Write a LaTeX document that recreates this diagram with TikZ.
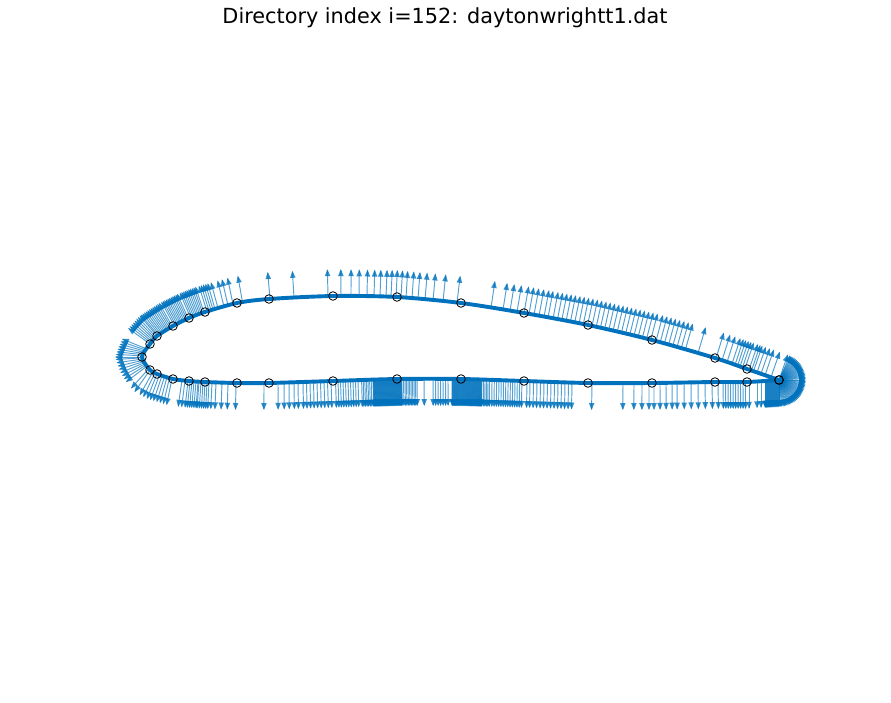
\documentclass[tikz,border=0pt]{standalone}
\usepackage{fontspec}
\setmainfont{DejaVu Sans}
\definecolor{mblue}{RGB}{0,114,189}
\tikzset{
  qv/.style={draw=mblue,line width=0.95pt,draw opacity=.68},
  qvhead/.style={fill=mblue,fill opacity=.8},
  foil/.style={draw=mblue,line width=3.9pt,line join=round},
  ctrl/.style={draw=black,line width=0.8pt,circle,inner sep=0pt,minimum size=8.6pt},
  ttl/.style={font=\fontsize{20.8}{25}\selectfont,text=black,anchor=center}
}
\newcommand{\qvarrow}[3]{%
  \draw[qv] (#1,#2) -- ++(#3:26);%
  \path[qvhead] (#1,#2) ++(#3:27) -- ++(#3+158:7.5) -- ++(#3-90:5.6) -- cycle;%
}
\newcommand{\fan}[7]{%
  \foreach \xx in {#7}{%
    \pgfmathsetmacro{\ttv}{(\xx-#1)/(#4-#1)}%
    \pgfmathsetmacro{\yy}{#2+\ttv*(#5-#2)}%
    \pgfmathsetmacro{\ang}{#3+\ttv*(#6-#3)}%
    \qvarrow{\xx}{\yy}{\ang}
  }%
}
\begin{document}
\begin{tikzpicture}[x=1pt,y=-1pt]
\useasboundingbox (0,0) rectangle (891,703);
\node[ttl] (title) at (445,18) {Directory index i=152: daytonwrightt1.dat};
% upper surface arrows
\fan{142}{357}{180}{150}{344}{216}{142,142.7,...,147}
\fan{150}{344}{216}{157}{336}{230}{150,151,...,157}
\fan{157}{336}{230}{173}{326}{241}{158,159.3,...,173}
\fan{173}{326}{241}{189}{318}{246}{174.2,175.6,...,189}
\fan{189}{318}{246}{205}{312}{252}{190.5,192,...,205}
\fan{205}{312}{252}{237}{303}{259}{207,209,211,213,215,218,224,228,233}
\fan{237}{303}{259}{269}{299}{265}{242.5}
\fan{269}{299}{265}{333}{296}{269}{270,294,328}
\fan{333}{296}{269}{397}{297}{273}{341,351,359,367,374,380,386,391,396}
\fan{397}{297}{273}{461}{303}{277}{401,406,412,418,425,433,443,457}
\fan{461}{303}{277}{524}{313}{280}{491,503,510,517,524}
\fan{524}{313}{280}{588}{325}{282}{529,534,539,544,548,553,557.5,561.8,...,588}
\fan{588}{325}{282}{652}{340}{284.6}{592,596.2,...,652}
\fan{652}{340}{284.6}{715}{358}{287}{656,660.2,...,686,698}
\fan{715}{358}{287}{747}{369}{289}{716,722,727,732,735,737.5,740,742.5,745}
\fan{747}{369}{289}{779}{380}{289}{749,751.5,753.5,757,761,765,771,779}
% trailing-edge fan
\foreach \ang in {-66,-63,...,90}{\qvarrow{779}{380}{\ang}}
% lower surface arrows
\fan{142}{357}{180}{150}{370}{125}{142.5,143.2,...,147.5,149,150}
\fan{150}{370}{125}{157}{374}{112}{153,155,157}
\fan{157}{374}{112}{173}{379}{101}{159.5,162,164.5,167,169.5,172}
\fan{173}{379}{101}{189}{381}{96}{182,185,188}
\fan{189}{381}{96}{205}{382}{93}{190,192,194,196,198,199,201,203,205}
\fan{205}{382}{93}{237}{383}{91}{207,209,212,216,222,228,236}
\fan{237}{383}{91}{269}{383}{90}{264}
\fan{269}{383}{90}{333}{381}{88}{278,284,289,294,298,303,306.5,310,...,333}
\fan{333}{381}{88}{397}{379}{89}{335.5,338,...,360,361.6,363.2,...,372,373,373.4,...,397}
\fan{397}{379}{89}{461}{379}{90}{397.4,397.8,...,402,403.5,405,...,418,424,433,435.5,438,...,450,452,452.4,...,461}
\fan{461}{379}{90}{524}{381}{91}{461.4,461.8,...,482,483.5,485,...,490,492,494.3,...,524}
\fan{524}{381}{91}{588}{383}{91}{527,530,533.5,537,...,573}
\fan{588}{383}{91}{652}{383}{90}{592,623,634,642,649}
\fan{652}{383}{90}{715}{382}{89}{654,660,666,672,677,684,691,698,705,712}
\fan{715}{382}{89}{747}{382}{90}{718,723,725.5,728,...,747}
\fan{747}{382}{90}{779}{380}{90}{749,757,761,765,765.5,766,...,779}
% airfoil outline
\draw[foil] plot[smooth,tension=.5] coordinates {(779,380)(747,369)(715,358)(652,340)(588,325)(524,313)(461,303)(397,297)(333,296)(269,299)(237,303)(205,312)(189,318)(173,326)(157,336)(150,344)(142,357)(150,370)(157,374)(173,379)(189,381)(205,382)(237,383)(269,383)(333,381)(397,379)(461,379)(524,381)(588,383)(652,383)(715,382)(747,382)(779,380)};
% control points
\foreach \px/\py [count=\i] in {779/380,747/369,715/358,652/340,588/325,524/313,461/303,397/297,333/296,269/299,237/303,205/312,189/318,173/326,157/336,150/344,142/357,150/370,157/374,173/379,189/381,205/382,237/383,269/383,333/381,397/379,461/379,524/381,588/383,652/383,715/382,747/382,779/380}
  \node[ctrl] (c\i) at (\px,\py) {};
\end{tikzpicture}
\end{document}
